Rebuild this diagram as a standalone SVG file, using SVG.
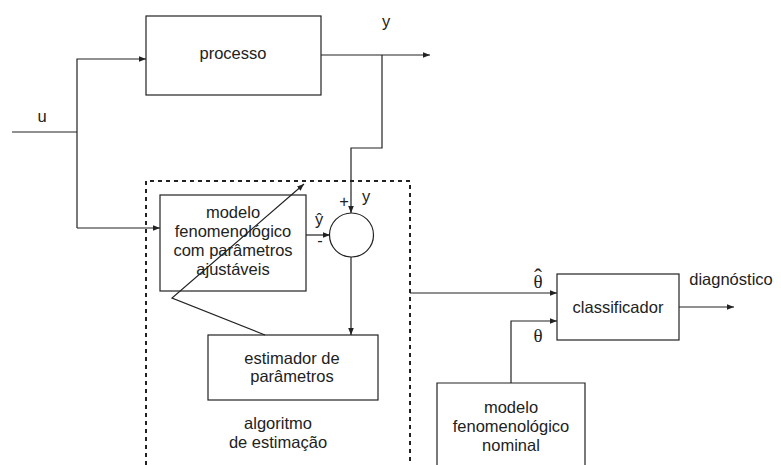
<svg xmlns="http://www.w3.org/2000/svg" width="781" height="465" viewBox="0 0 781 465">
<defs>
<marker id="ah" viewBox="0 0 10 10" refX="10" refY="5" markerWidth="7" markerHeight="7" markerUnits="userSpaceOnUse" orient="auto">
<path d="M0,1 L10,5 L0,9 Z" fill="#222"/>
</marker>
</defs>
<style>
.box{fill:#fff;stroke:#222;stroke-width:1.2}
.ln{fill:none;stroke:#222;stroke-width:1.2}
.t{font-family:"Liberation Sans",Arial,sans-serif;font-size:16.5px;fill:#222;text-anchor:middle}
.s{font-family:"Liberation Serif","Times New Roman",serif;font-size:19px;fill:#222;text-anchor:middle}
.dash{fill:none;stroke:#222;stroke-width:2;stroke-dasharray:4,4}
</style>
<rect width="781" height="465" fill="#fff"/>
<g id="estimation-region">
<path class="dash" d="M146,465 L146,181 L410,181 L410,465"/>
<text class="t" x="278" y="429">algoritmo</text>
<text class="t" x="278" y="448">de estimação</text>
</g>
<g id="processo">
<rect class="box" x="146" y="16" width="175" height="79"/>
<text class="t" x="233" y="59">processo</text>
</g>
<g id="modelo">
<rect class="box" x="160" y="195" width="146" height="96"/>
<text class="t" x="233" y="218">modelo</text>
<text class="t" x="233" y="237">fenomenológico</text>
<text class="t" x="233" y="256">com parâmetros</text>
<text class="t" x="233" y="275">ajustáveis</text>
</g>
<g id="somador">
<circle class="box" cx="351.5" cy="235" r="22"/>
</g>
<g id="estimador">
<rect class="box" x="208" y="335" width="170" height="65"/>
<text class="t" x="292" y="364">estimador de</text>
<text class="t" x="292" y="382">parâmetros</text>
</g>
<g id="classificador">
<rect class="box" x="557" y="274" width="122" height="66"/>
<text class="t" x="618" y="313">classificador</text>
</g>
<g id="modelo-nominal">
<path class="box" d="M437,466 L437,383 L585,383 L585,466"/>
<text class="t" x="511" y="413">modelo</text>
<text class="t" x="511" y="432">fenomenológico</text>
<text class="t" x="511" y="451">nominal</text>
</g>
<g id="connectors">
<path class="ln" d="M12,132 L77,132"/>
<path class="ln" d="M77,228 L77,59 L146,59" marker-end="url(#ah)"/>
<path class="ln" d="M77,228 L160,228" marker-end="url(#ah)"/>
<path class="ln" d="M321,55 L430,55" marker-end="url(#ah)"/>
<path class="ln" d="M382,55 L382,148 L351,148 L351,213" marker-end="url(#ah)"/>
<path class="ln" d="M306,235 L330,235" marker-end="url(#ah)"/>
<path class="ln" d="M351,257 L351,335" marker-end="url(#ah)"/>
<path class="ln" d="M265,335 L172,298 L304,184" marker-end="url(#ah)"/>
<path class="ln" d="M410,293 L557,293" marker-end="url(#ah)"/>
<path class="ln" d="M511,383 L511,321 L557,321" marker-end="url(#ah)"/>
<path class="ln" d="M679,307 L734,307" marker-end="url(#ah)"/>
<text class="t" x="42" y="122">u</text>
<text class="t" x="386" y="27">y</text>
<text class="t" x="319" y="225">ŷ</text>
<text class="t" x="320" y="246">-</text>
<text class="t" x="344" y="207">+</text>
<text class="t" x="366" y="202">y</text>
<text class="s" x="538" y="288">θ<tspan x="538" y="285" style="font-size:24px">ˆ</tspan></text>
<text class="s" x="538" y="342">θ</text>
<text class="t" x="731" y="285">diagnóstico</text>
</g>
</svg>
